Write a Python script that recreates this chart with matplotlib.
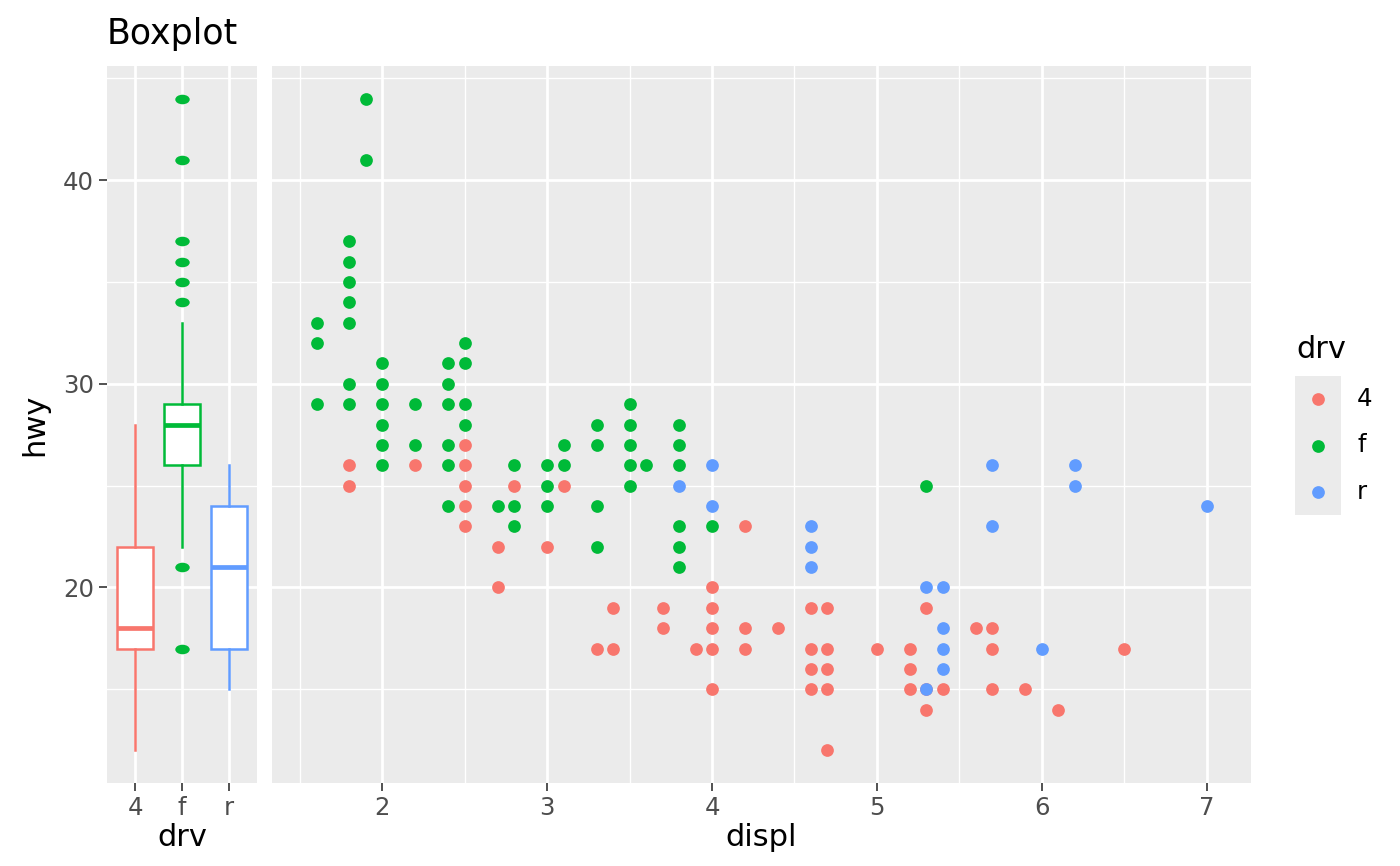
import numpy as np
import matplotlib.pyplot as plt
from matplotlib.markers import MarkerStyle
from matplotlib.transforms import Affine2D

# scatter data (displ, hwy) per drive type
displ_4 = [1.8, 1.8, 2.2, 2.5, 2.5, 2.5, 2.5, 2.5, 2.7, 2.7, 2.8, 3.0, 3.1, 3.3,
           3.4, 3.4, 3.7, 3.7, 3.9, 4.0, 4.0, 4.0, 4.0, 4.0, 4.2, 4.2, 4.2, 4.4,
           4.6, 4.6, 4.6, 4.6, 4.7, 4.7, 4.7, 4.7, 4.7, 5.0, 5.2, 5.2, 5.2,
           5.3, 5.3, 5.3, 5.4, 5.6, 5.7, 5.7, 5.7, 5.9, 6.1, 6.5]
hwy_4 = [26, 25, 26, 27, 26, 25, 24, 23, 22, 20, 25, 22, 25, 17,
         19, 17, 19, 18, 17, 20, 19, 18, 17, 15, 23, 18, 17, 18,
         19, 17, 16, 15, 19, 17, 16, 15, 12, 17, 17, 16, 15,
         19, 15, 14, 15, 18, 18, 17, 15, 15, 14, 17]

displ_f = [1.6, 1.6, 1.6, 1.8, 1.8, 1.8, 1.8, 1.8, 1.8, 1.8, 1.9, 1.9,
           2.0, 2.0, 2.0, 2.0, 2.0, 2.0, 2.2, 2.2, 2.4, 2.4, 2.4, 2.4, 2.4, 2.4,
           2.5, 2.5, 2.5, 2.5, 2.7, 2.8, 2.8, 2.8, 3.0, 3.0, 3.0, 3.1, 3.1,
           3.3, 3.3, 3.3, 3.3, 3.5, 3.5, 3.5, 3.5, 3.5, 3.6,
           3.8, 3.8, 3.8, 3.8, 3.8, 3.8, 4.0, 5.3]
hwy_f = [33, 32, 29, 37, 36, 35, 34, 33, 30, 29, 44, 41,
         31, 30, 29, 28, 27, 26, 29, 27, 31, 30, 29, 27, 26, 24,
         32, 31, 29, 28, 24, 26, 24, 23, 26, 25, 24, 27, 26,
         28, 27, 24, 22, 29, 28, 27, 26, 25, 26,
         28, 27, 26, 23, 22, 21, 23, 25]

displ_r = [3.8, 4.0, 4.0, 4.6, 4.6, 4.6, 5.3, 5.3, 5.4, 5.4, 5.4, 5.4,
           5.7, 5.7, 6.0, 6.2, 6.2, 7.0]
hwy_r = [25, 26, 24, 23, 22, 21, 20, 15, 20, 18, 17, 16,
         26, 23, 17, 26, 25, 24]

# boxplot summary per drive type
drv_levels = ["4", "f", "r"]
box_q1 = [17, 26, 17]
box_med = [18, 28, 21]
box_q3 = [22, 29, 24]
box_lo = [12, 22, 15]
box_hi = [28, 33, 26]
box_out = [[], [44, 41, 37, 36, 35, 34, 21, 17], []]

colors = {"4": "#F8766D", "f": "#00BA38", "r": "#619CFF"}
panel_bg = "#EBEBEB"
tick_col = "#4D4D4D"

fig = plt.figure(figsize=(7, 4.33), dpi=200)
ax_box = fig.add_axes([107 / 1400, 1 - 783 / 866, 150 / 1400, 717 / 866])
ax_pts = fig.add_axes([272 / 1400, 1 - 783 / 866, 979 / 1400, 717 / 866])

ylim = (10.4, 45.6)


def style_panel(ax):
    ax.set_facecolor(panel_bg)
    for s in ax.spines.values():
        s.set_visible(False)
    ax.set_ylim(*ylim)
    ax.set_axisbelow(True)
    ax.set_yticks([20, 30, 40])
    ax.set_yticks([15, 25, 35, 45], minor=True)
    ax.grid(which="major", color="white", linewidth=1.0)
    ax.grid(which="minor", color="white", linewidth=0.5)
    ax.tick_params(which="major", length=2.75, width=0.6, color="#333333",
                   labelsize=8.8, labelcolor=tick_col, pad=2)
    ax.tick_params(which="minor", length=0)


# left panel: boxplot
style_panel(ax_box)
stats = []
for i, lev in enumerate(drv_levels):
    stats.append(dict(med=box_med[i], q1=box_q1[i], q3=box_q3[i],
                      whislo=box_lo[i], whishi=box_hi[i],
                      fliers=box_out[i], label=lev))
flier_marker = MarkerStyle("o", transform=Affine2D().scale(1.0, 0.66))
art = ax_box.bxp(stats, positions=[1, 2, 3], widths=0.78, patch_artist=True,
                 showcaps=False, manage_ticks=False)
for i, lev in enumerate(drv_levels):
    c = colors[lev]
    art["boxes"][i].set(facecolor="white", edgecolor=c, linewidth=0.9)
    art["medians"][i].set(color=c, linewidth=1.7)
    for w in art["whiskers"][2 * i:2 * i + 2]:
        w.set(color=c, linewidth=0.9)
    art["fliers"][i].set(marker=flier_marker, markerfacecolor=c,
                         markeredgewidth=0, markersize=5.2)
ax_box.set_xlim(0.4, 3.6)
ax_box.set_xticks([1, 2, 3])
ax_box.set_xticklabels(drv_levels)
ax_box.set_xlabel("drv", fontsize=11, labelpad=1)
ax_box.set_ylabel("hwy", fontsize=11, labelpad=5)
ax_box.set_title("Boxplot", loc="left", fontsize=12.5, pad=8)

# right panel: scatter
style_panel(ax_pts)
ax_pts.scatter(displ_4, hwy_4, s=21, color=colors["4"], linewidths=0, zorder=3)
ax_pts.scatter(displ_f, hwy_f, s=21, color=colors["f"], linewidths=0, zorder=3)
ax_pts.scatter(displ_r, hwy_r, s=21, color=colors["r"], linewidths=0, zorder=3)
ax_pts.set_xlim(1.33, 7.27)
ax_pts.set_xticks([2, 3, 4, 5, 6, 7])
ax_pts.set_xticks([1.5, 2.5, 3.5, 4.5, 5.5, 6.5], minor=True)
ax_pts.tick_params(axis="y", which="both", left=False, labelleft=False)
ax_pts.set_xlabel("displ", fontsize=11, labelpad=1)

# legend
ax_leg = fig.add_axes([1295 / 1400, 1 - 515 / 866, 46 / 1400, 139 / 866])
ax_leg.set_facecolor(panel_bg)
for s in ax_leg.spines.values():
    s.set_visible(False)
ax_leg.set_xticks([])
ax_leg.set_yticks([])
ax_leg.set_xlim(-1, 1)
ax_leg.set_ylim(2.5, -0.5)
for i, lev in enumerate(drv_levels):
    ax_leg.scatter([0], [i], s=21, color=colors[lev], linewidths=0)
    ax_leg.text(1.7, i, lev, fontsize=8.8, va="center", ha="left")
fig.text(1296 / 1400, 1 - 350 / 866, "drv", fontsize=11, va="center", ha="left")

fig.savefig("out.png", dpi=200)
